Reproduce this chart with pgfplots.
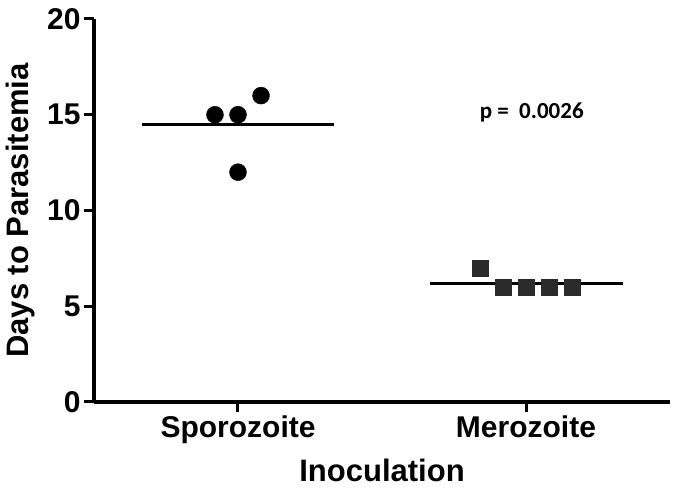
\documentclass[border=0pt]{standalone}
\usepackage{fontspec}
\setmainfont{Liberation Sans}
\newfontfamily\calib{Carlito}
\usepackage{pgfplots}
\pgfplotsset{compat=1.18}
\definecolor{sqgray}{HTML}{2B2B2B}
\begin{document}
\begin{tikzpicture}
\useasboundingbox (-94pt,-90pt) rectangle (583pt,402pt);
\begin{axis}[
  scale only axis, width=576pt, height=383pt,
  xmin=-0.5, xmax=1.5, ymin=0, ymax=20,
  axis x line*=bottom, axis y line*=left,
  axis line style={line width=3.5pt, black},
  xtick={0,1}, xticklabels={Sporozoite,Merozoite},
  ytick={0,5,10,15,20},
  tick style={line width=3pt, black},
  major tick length=10pt,
  tick align=outside,
  ticklabel style={font=\fontsize{30}{36}\selectfont\bfseries},
  /pgf/number format/assume math mode=true,
  xlabel={Inoculation}, ylabel={Days to Parasitemia},
  label style={font=\fontsize{31}{37}\selectfont\bfseries},
  xlabel style={at={(axis description cs:0.5,-0.1775)}, anchor=center},
  ylabel style={at={(axis description cs:-0.1285,0.5)}, anchor=center},
  clip=false,
]
\addplot[line width=3pt, black] coordinates {(-0.335,14.5) (0.335,14.5)};
\addplot[line width=3pt, black] coordinates {(0.665,6.2) (1.337,6.2)};
\addplot[only marks, mark=*, mark size=8.5pt, black] coordinates {(-0.08,15) (0,15) (0.08,16) (0,12)};
\addplot[only marks, mark=square*, mark size=8pt, color=sqgray] coordinates {(0.84,7) (0.92,6) (1,6) (1.08,6) (1.16,6)};
\node[font=\calib\bfseries\fontsize{23}{27}\selectfont] at (axis cs:1.02,15.1) {p = \ 0.0026};
\end{axis}
\end{tikzpicture}
\end{document}
